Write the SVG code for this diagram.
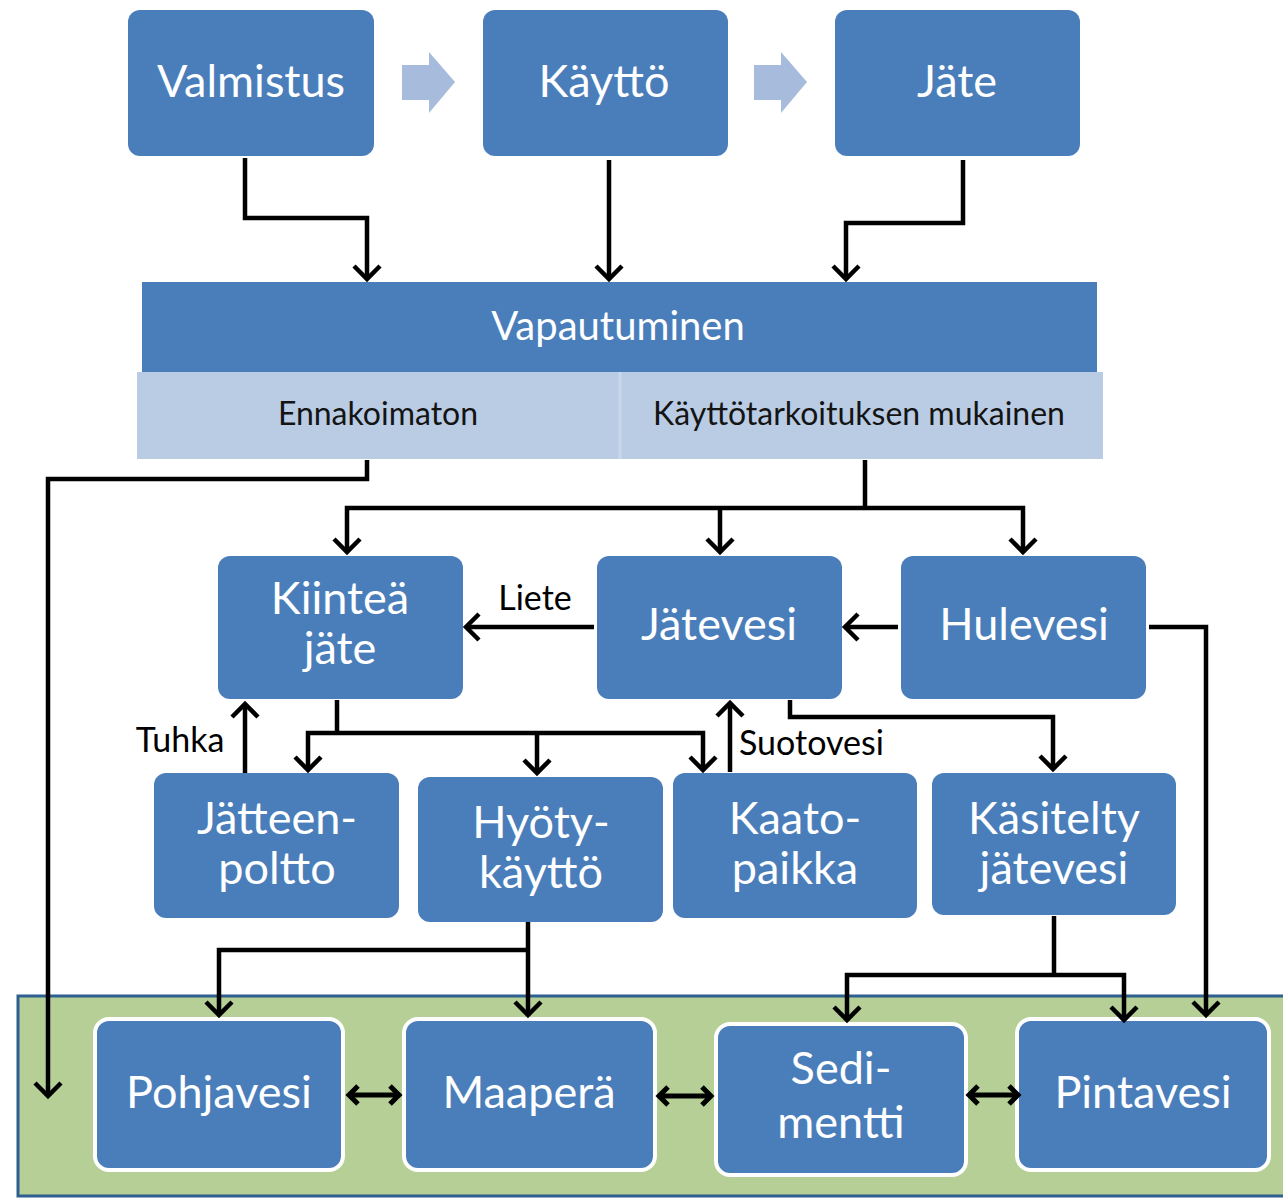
<svg xmlns="http://www.w3.org/2000/svg" width="1283" height="1199" viewBox="0 0 1283 1199">
<defs>
<marker id="ah" viewBox="-16 -16 20 32" markerWidth="20" markerHeight="32" refX="0" refY="0" orient="auto" markerUnits="userSpaceOnUse" overflow="visible">
<path d="M-13,-13 L0,0 L-13,13" fill="none" stroke="#000" stroke-width="4.5"/>
</marker>
<marker id="ah2" viewBox="-12 -12 14 24" markerWidth="14" markerHeight="24" refX="0" refY="0" orient="auto-start-reverse" markerUnits="userSpaceOnUse" overflow="visible">
<path d="M-9,-9 L0,0 L-9,9" fill="none" stroke="#000" stroke-width="5"/>
</marker>
<style>
.box{fill:#4a7ebb;}
.boxw{fill:#4a7ebb;stroke:#ffffff;stroke-width:4;}
.t{font-family:Lato,"Open Sans","Liberation Sans",sans-serif;fill:#ffffff;text-anchor:middle;font-size:45px;}
.tv{font-family:Lato,"Open Sans","Liberation Sans",sans-serif;fill:#ffffff;text-anchor:middle;font-size:40px;}
.ts{font-family:Lato,"Open Sans","Liberation Sans",sans-serif;fill:#141414;text-anchor:middle;font-size:32px;}
.lb{font-family:Lato,"Open Sans","Liberation Sans",sans-serif;fill:#000;font-size:34px;}
.c{fill:none;stroke:#000;stroke-width:4.5;}
.ce{fill:none;stroke:#000;stroke-width:4.5;marker-end:url(#ah);}
.cd{fill:none;stroke:#000;stroke-width:5;marker-start:url(#ah2);marker-end:url(#ah2);}
.chev{fill:#a7bcdc;}
</style>
</defs>
<rect width="1283" height="1199" fill="#ffffff"/>

<g id="environment">
<rect x="18" y="996" width="1280" height="200" fill="#b5cf96" stroke="#2d5f8f" stroke-width="3"/>
</g>

<g id="valmistus"><rect class="box" x="128" y="10" width="246" height="146" rx="12"/><text class="t" x="251" y="97">Valmistus</text></g>
<g id="kaytto"><rect class="box" x="483" y="10" width="245" height="146" rx="12"/><text class="t" x="604" y="97">Käyttö</text></g>
<g id="jate"><rect class="box" x="835" y="10" width="245" height="146" rx="12"/><text class="t" x="957" y="97">Jäte</text></g>
<g id="chevrons">
<polygon class="chev" points="402,65 429,65 429,52 455,82 429,113 429,100 402,100"/>
<polygon class="chev" points="754,65 781,65 781,52 807,82 781,113 781,100 754,100"/>
</g>

<g id="vapautuminen">
<rect class="box" x="142" y="282" width="955" height="90"/>
<text class="tv" x="618" y="340">Vapautuminen</text>
<rect x="137" y="372" width="966" height="87" fill="#b9cce4"/>
<line x1="620" y1="372" x2="620" y2="459" stroke="#c9d7ea" stroke-width="3"/>
<text class="ts" x="378" y="425">Ennakoimaton</text>
<text class="ts" x="859" y="425">Käyttötarkoituksen mukainen</text>
</g>

<g id="kiintea"><rect class="box" x="218" y="556" width="245" height="143" rx="12"/><text class="t" x="340" y="614">Kiinteä</text><text class="t" x="340" y="664">jäte</text></g>
<g id="jatevesi"><rect class="box" x="597" y="556" width="245" height="143" rx="12"/><text class="t" x="719" y="640">Jätevesi</text></g>
<g id="hulevesi"><rect class="box" x="901" y="556" width="245" height="143" rx="12"/><text class="t" x="1024" y="640">Hulevesi</text></g>

<g id="jatteenpoltto"><rect class="box" x="154" y="773" width="245" height="145" rx="12"/><text class="t" x="277" y="834">Jätteen-</text><text class="t" x="277" y="884">poltto</text></g>
<g id="hyotykaytto"><rect class="box" x="418" y="777" width="245" height="145" rx="12"/><text class="t" x="541" y="838">Hyöty-</text><text class="t" x="541" y="888">käyttö</text></g>
<g id="kaatopaikka"><rect class="box" x="673" y="773" width="244" height="145" rx="12"/><text class="t" x="795" y="834">Kaato-</text><text class="t" x="795" y="884">paikka</text></g>
<g id="kasitelty"><rect class="box" x="932" y="773" width="244" height="142" rx="12"/><text class="t" x="1054" y="834">Käsitelty</text><text class="t" x="1054" y="884">jätevesi</text></g>

<g id="pohjavesi"><rect class="boxw" x="95" y="1019" width="248" height="151" rx="14"/><text class="t" x="219" y="1108">Pohjavesi</text></g>
<g id="maapera"><rect class="boxw" x="404" y="1019" width="251" height="151" rx="14"/><text class="t" x="529" y="1108">Maaperä</text></g>
<g id="sedimentti"><rect class="boxw" x="716" y="1024" width="250" height="151" rx="14"/><text class="t" x="841" y="1084">Sedi-</text><text class="t" x="841" y="1138">mentti</text></g>
<g id="pintavesi"><rect class="boxw" x="1017" y="1019" width="252" height="151" rx="14"/><text class="t" x="1143" y="1108">Pintavesi</text></g>

<g id="connectors">
<path class="ce" d="M245,158 V218 H367 V279"/>
<path class="ce" d="M609,160 V279"/>
<path class="ce" d="M963,160 V223 H846 V279"/>
<path class="ce" d="M367,460 V479 H48 V1096"/>
<path class="c" d="M865,460 V508"/>
<path class="ce" d="M865,508 H347 V552"/>
<path class="ce" d="M865,508 H1023 V552"/>
<path class="ce" d="M720,508 V552"/>
<path class="ce" d="M594,627 H466"/>
<path class="ce" d="M898,627 H845"/>
<path class="ce" d="M1149,627 H1206 V1015"/>
<path class="c" d="M337,700 V733"/>
<path class="ce" d="M337,733 H308 V770"/>
<path class="ce" d="M337,733 H703 V770"/>
<path class="ce" d="M537,733 V773"/>
<path class="ce" d="M245,773 V704"/>
<path class="ce" d="M730,772 V703"/>
<path class="ce" d="M790,700 V717 H1053 V769"/>
<path class="ce" d="M528,922 V1015"/>
<path class="ce" d="M528,950 H219 V1015"/>
<path class="c" d="M1054,916 V975"/>
<path class="ce" d="M1054,975 H847 V1020"/>
<path class="ce" d="M1054,975 H1124 V1020"/>
<path class="cd" d="M349,1095 H399"/>
<path class="cd" d="M659,1096 H711"/>
<path class="cd" d="M969,1095 H1018"/>
<text class="lb" x="535" y="610" text-anchor="middle">Liete</text>
<text class="lb" x="180" y="752" text-anchor="middle">Tuhka</text>
<text class="lb" x="739" y="755">Suotovesi</text>
</g>
</svg>
